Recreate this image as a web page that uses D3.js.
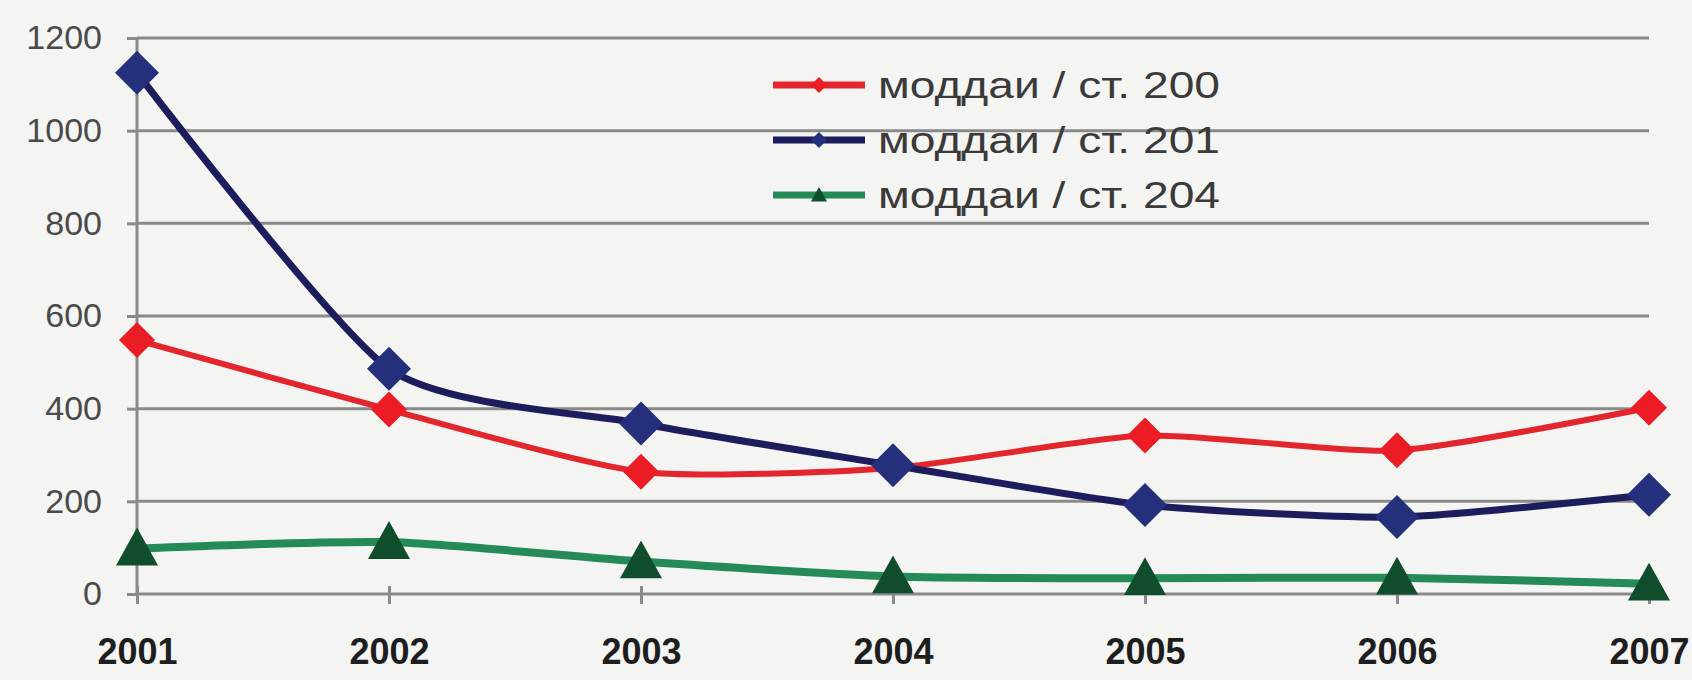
<!DOCTYPE html>
<html>
<head>
<meta charset="utf-8">
<script src="https://cdn.jsdelivr.net/npm/d3@7"></script>
<style>
    body { margin: 0; background: #f4f4f2; }
    svg { display: block; }
    .grid line { stroke: #8a8a8a; stroke-width: 3; }
    .axis path, .axis line { stroke: #8a8a8a; stroke-width: 3; }
    .y-axis text { font-family: "Liberation Sans", Arial, sans-serif; font-size: 34px; fill: #4a4a4a; }
    .x-axis text { font-family: "Liberation Sans", Arial, sans-serif; font-size: 36px; font-weight: bold; fill: #1e1e1e; }
    .legend text { font-family: "Liberation Sans", Arial, sans-serif; font-size: 37px; fill: #3a3a3a; }
</style>
</head>
<body>
<svg id="chart" width="1692" height="680"></svg>
<script>
// categories / values
const years = ["2001", "2002", "2003", "2004", "2005", "2006", "2007"];
const st200 = [548, 398, 264, 272, 342, 310, 402];
const st201 = [1125, 486, 368, 278, 192, 166, 214];
const st204 = [98, 112, 70, 38, 34, 35, 22];
const yTicks = [0, 200, 400, 600, 800, 1000, 1200];
const seriesNames = ["моддаи / ст. 200", "моддаи / ст. 201", "моддаи / ст. 204"];

let margin = {top: 38, right: 43, bottom: 86, left: 137};
let width = 1692 - margin.left - margin.right;
let height = 680 - margin.top - margin.bottom;

let svg = d3.select("#chart");
let g = svg.append("g")
    .attr("transform", "translate(" + margin.left + "," + margin.top + ")");

let x = d3.scalePoint().domain(years).range([0, width]);
let y = d3.scaleLinear().domain([0, 1200]).range([height, 0]);

// horizontal gridlines
g.append("g")
    .attr("class", "grid")
    .selectAll("line")
    .data(yTicks)
    .enter().append("line")
    .attr("x1", 0)
    .attr("x2", width)
    .attr("y1", d => y(d))
    .attr("y2", d => y(d));

let yAxis = g.append("g")
    .attr("class", "axis y-axis")
    .call(d3.axisLeft(y).tickValues(yTicks).tickFormat(d3.format("d"))
        .tickSize(10).tickPadding(25).tickSizeOuter(0));
yAxis.select(".domain").attr("d", "M0," + y(0) + "V" + y(1200));

let xAxis = g.append("g")
    .attr("class", "axis x-axis")
    .attr("transform", "translate(0," + height + ")")
    .call(d3.axisBottom(x).tickSize(10).tickPadding(34).tickSizeOuter(0));
xAxis.select(".domain").remove();
xAxis.selectAll(".tick line").attr("y1", -8);

let series = [
    {values: st200, line: "#e3262d", fill: "#ec1c24", width: 6, shape: "diamond", size: 18},
    {values: st201, line: "#1d1d5e", fill: "#24307c", width: 7, shape: "diamond", size: 22},
    {values: st204, line: "#238a58", fill: "#0f4d2c", width: 8, shape: "triangle", size: 21}
];

let line = d3.line()
    .x((d, i) => x(years[i]))
    .y(d => y(d))
    .curve(d3.curveCardinal.tension(0.35));

function markerPath(shape, s) {
    if (shape === "diamond") {
        return "M0," + (-s) + "L" + s + ",0L0," + s + "L" + (-s) + ",0Z";
    }
    return "M0," + (-s) + "L" + s + "," + (s * 0.8) + "L" + (-s) + "," + (s * 0.8) + "Z";
}

for (let s of series) {
    g.append("path")
        .datum(s.values)
        .attr("fill", "none")
        .attr("stroke", s.line)
        .attr("stroke-width", s.width)
        .attr("stroke-linejoin", "round")
        .attr("d", line);
}

for (let s of series) {
    g.append("g").selectAll("path")
        .data(s.values)
        .enter().append("path")
        .attr("transform", (d, i) => "translate(" + x(years[i]) + "," + y(d) + ")")
        .attr("d", markerPath(s.shape, s.size))
        .attr("fill", s.fill);
}

// legend
let legend = svg.append("g")
    .attr("class", "legend")
    .attr("transform", "translate(773,85)");

let rows = legend.selectAll("g")
    .data(series)
    .enter().append("g")
    .attr("transform", (d, i) => "translate(0," + (i * 55) + ")");

rows.append("line")
    .attr("x1", 0).attr("x2", 92)
    .attr("stroke", d => d.line)
    .attr("stroke-width", 7);

rows.append("path")
    .attr("transform", "translate(46,0)")
    .attr("d", d => markerPath(d.shape, 8))
    .attr("fill", d => d.fill);

rows.append("text")
    .attr("x", 105)
    .attr("y", 13)
    .attr("textLength", 342)
    .attr("lengthAdjust", "spacingAndGlyphs")
    .text((d, i) => seriesNames[i]);
</script>
</body>
</html>
